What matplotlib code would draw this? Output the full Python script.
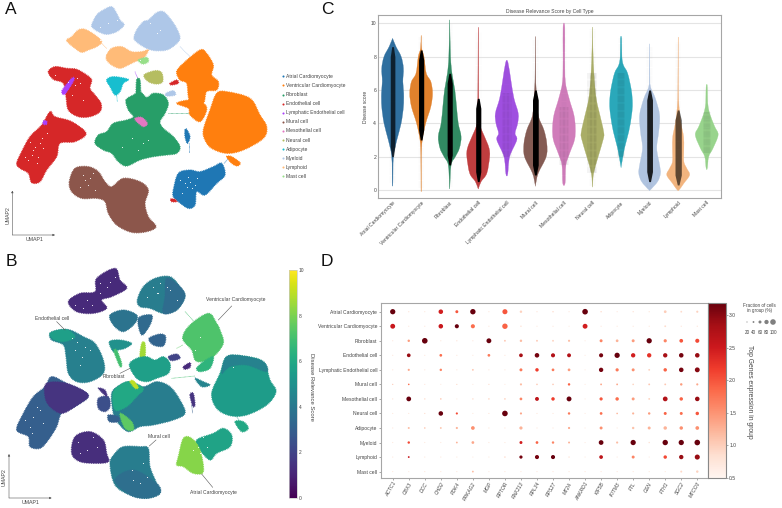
import numpy as np
import matplotlib
matplotlib.use("Agg")
import matplotlib.pyplot as plt
from matplotlib.colors import Normalize
from matplotlib.path import Path
from matplotlib.patches import PathPatch

plt.rcParams["font.family"] = ["Liberation Sans", "DejaVu Sans"]

W, H = 782, 508
TXT = "#444444"
FRAME = "#a6a6a6"

cell_types = ["Atrial Cardiomyocyte", "Ventricular Cardiomyocyte", "Fibroblast", "Endothelial cell",
              "Lymphatic Endothelial cell", "Mural cell", "Mesothelial cell", "Neural cell",
              "Adipocyte", "Myeloid", "Lymphoid", "Mast cell"]
cell_colors = ["#1f77b4", "#ff7f0e", "#279e68", "#d62728", "#aa40fc", "#8c564b",
               "#e377c2", "#b5bd61", "#17becf", "#aec7e8", "#ffbb78", "#98df8a"]
violin_colors = ["#2f6f9f", "#e1812c", "#318a62", "#c03d3e", "#9f4fe0", "#845b53",
                 "#d07cba", "#a9ad66", "#2aa8ba", "#b0c4e0", "#f2b47e", "#98d48c"]

# ---- panel A outlines, UMAP ----
a_myeloid_l = [(275,75),(290,45),(310,30),(335,20),(350,40),(360,60),(372,75),(350,95),(320,103),(295,95),(280,85)]
a_myeloid_r = [(402,115),(410,90),(430,65),(445,60),(470,38),(490,35),(510,55),(530,85),(540,115),(525,135),(500,150),(465,152),(440,145),(415,130)]
a_lymph_1 = [(200,122),(215,110),(235,90),(255,88),(285,105),(305,125),(290,140),(265,150),(245,157),(225,145)]
a_lymph_2 = [(320,165),(335,145),(365,140),(395,155),(425,155),(445,150),(430,175),(405,185),(385,195),(360,205),(335,195),(320,180)]
a_mast = [(415,180),(440,172),(445,185),(428,192)]
a_neural = [(432,225),(465,212),(485,218),(488,245),(470,252),(445,245)]
a_adipo = [(320,240),(340,230),(385,238),(370,250),(360,275),(345,285),(330,260)]
a_fibro = [(378,300),(400,285),(420,275),(440,292),(460,280),(490,285),(505,310),(495,340),(480,365),(490,385),(520,410),(540,440),(530,460),(500,465),(460,470),(420,480),(380,498),(355,485),(335,460),(310,450),(285,430),(295,405),(320,395),(340,370),(380,360),(400,350),(385,330)]
a_fibro_stem = [(410,240),(420,240),(421,285),(409,285)]
a_endo_u = [(145,215),(165,200),(200,205),(230,208),(260,225),(275,240),(270,265),(285,285),(303,310),(300,335),(270,350),(235,350),(205,330),(198,290),(190,250),(160,238)]
a_endo_l = [(50,490),(65,455),(90,410),(125,375),(150,335),(165,350),(215,365),(258,400),(225,425),(180,430),(170,470),(140,510),(120,545),(95,548),(85,520),(60,505)]
a_mural = [(208,545),(225,505),(265,500),(295,515),(315,545),(335,560),(370,535),(420,545),(445,570),(435,610),(445,650),(468,680),(440,695),(395,697),(350,675),(325,640),(315,605),(290,595),(245,595),(215,575)]
a_vent_u = [(530,215),(550,190),(600,150),(620,160),(640,195),(635,225),(655,245),(650,270),(620,275),(610,310),(575,320),(565,290),(560,250),(540,240)]
a_vent_l = [(610,390),(630,330),(650,280),(680,275),(750,295),(780,345),(800,380),(790,415),(730,450),(680,460),(635,445),(615,420)]
a_vent_link = [(530,310),(570,300),(610,310),(620,330),(600,365),(570,345),(565,325)]
a_vent_small = [(680,470),(695,470),(720,488),(712,498),(695,490)]
a_atrial = [(520,570),(535,520),(570,510),(600,515),(640,500),(665,490),(675,525),(650,550),(615,585),(590,575),(585,615),(565,625),(535,605),(520,590)]
a_atrial_small = [(555,390),(560,388),(570,410),(562,430),(555,410)]
a_endo_s1 = [(512,597),(525,598),(530,605),(515,605)]
a_endo_s2 = [(510,250),(530,240),(535,250),(515,255)]
a_lec_1 = [(186,272),(215,235),(222,240),(195,282)]
a_lec_2 = [(130,363),(140,363),(140,373),(130,373)]
a_meso = [(405,355),(425,352),(442,370),(430,380),(410,365)]
a_myel_s = [(498,280),(520,272),(526,285),(500,288)]
a_holes_x = [100,120,85,140,110,95,105,130,75,125,115,90,225,250,270,165,215,230,240,205,560,570,545,590,555,575,565,585,540,255,265,280,270,250,240,285,470,350,300,420,480,450,300,325,445,365,395,430,415]
a_holes_y = [450,430,480,400,490,465,440,445,470,415,470,425,255,300,225,225,285,235,250,245,560,545,580,535,550,565,530,555,540,540,555,520,535,525,560,570,100,60,120,180,90,70,80,70,420,440,415,430,450]
# thin threads between clusters: x0, y0, x1, y1 and cell type
a_threads = [(505,340,575,340,2),(540,140,582,182,9),(445,150,470,145,10),(568,430,568,460,0),(300,125,320,145,10),(405,215,415,240,4),(672,490,690,470,0),(350,285,352,305,8)]

a_polys = [(a_myeloid_l,9),(a_myeloid_r,9),(a_lymph_1,10),(a_lymph_2,10),(a_mast,11),(a_neural,7),(a_adipo,8),
           (a_fibro,2),(a_fibro_stem,2),(a_endo_u,3),(a_endo_l,3),(a_mural,5),(a_vent_u,1),(a_vent_l,1),(a_vent_link,1),
           (a_vent_small,1),(a_atrial,0),(a_atrial_small,0),(a_endo_s1,3),(a_endo_s2,3),(a_lec_1,4),(a_lec_2,4),(a_meso,6),(a_myel_s,9)]

# ---- panel B outlines with their mean score ----
b_myel_l = [(205,155),(240,130),(285,125),(290,85),(345,55),(360,90),(380,115),(335,140),(305,150),(320,175),(280,190),(230,185)]
b_myel_r = [(412,150),(430,110),(465,85),(510,80),(540,110),(555,140),(530,180),(490,190),(450,175),(420,170)]
b_myel_edge = [(500,85),(540,110),(555,140),(530,180),(490,190),(495,140)]
b_lymph = [(330,195),(370,180),(410,195),(405,220),(370,245),(340,225)]
b_link = [(415,205),(455,195),(450,225),(425,255)]
b_neural = [(447,265),(480,252),(497,260),(490,288),(460,285)]
b_adipo = [(328,275),(360,270),(395,280),(375,295),(355,300),(340,305)]
b_adipo_tail = [(342,305),(350,300),(365,340),(360,350)]
b_stem = [(425,280),(435,280),(435,320),(420,320)]
b_fib_u = [(388,345),(410,325),(440,320),(465,330),(490,320),(510,340),(505,370),(470,385),(440,395),(410,385)]
b_fib_l = [(335,430),(360,405),(390,395),(430,410),(470,395),(510,410),(540,450),(555,490),(520,510),(460,525),(420,530),(385,545),(355,520),(340,490)]
b_fib_green = [(338,430),(360,405),(390,395),(430,415),(410,440),(380,470),(345,480)]
b_fib_bright = [(360,490),(395,515),(400,540),(375,535)]
b_fib_frag1 = [(295,445),(325,440),(330,470),(315,485),(295,475)]
b_fib_frag2 = [(325,495),(355,500),(355,515),(328,515)]
b_fib_frag3 = [(295,415),(315,420),(320,440)]
b_yellow = [(390,395),(400,392),(415,412),(405,415)]
b_endo_u = [(150,250),(175,240),(210,240),(250,260),(285,280),(310,330),(310,370),(270,395),(230,395),(205,370),(198,320),(190,285),(155,270)]
b_endo_top = [(150,250),(175,240),(205,240),(225,262),(190,275),(160,268)]
b_endo_l = [(50,540),(70,490),(100,440),(135,410),(155,380),(200,400),(265,435),(225,470),(185,490),(170,530),(145,570),(120,595),(90,590),(85,560)]
b_endo_dark = [(140,400),(200,400),(265,435),(225,470),(185,490),(150,470),(135,440)]
b_mural_l = [(215,610),(225,560),(270,545),(310,570),(320,610),(325,635),(290,640),(240,635)]
b_mural_r = [(330,640),(345,610),(370,590),(420,590),(445,595),(450,650),(470,700),(480,730),(440,745),(390,735),(345,705)]
b_mural_low = [(345,690),(400,660),(470,700),(480,730),(440,745),(390,735)]
b_vent_u = [(548,265),(570,225),(625,190),(650,220),(660,240),(670,280),(640,320),(605,335),(585,330),(575,300)]
b_vent_link = [(590,355),(610,335),(640,320),(630,355),(600,365)]
b_vent_l = [(635,430),(660,370),(680,320),(730,318),(790,335),(810,390),(828,425),(800,465),(740,495),(690,497),(650,475)]
b_vent_rim = [(680,320),(730,318),(790,335),(800,365),(740,345),(690,350),(665,370)]
b_vent_low = [(585,385),(610,395),(630,405),(605,410)]
b_vent_small = [(705,515),(730,515),(745,535),(725,545)]
b_atr_r = [(590,570),(640,550),(670,535),(695,555),(690,590),(650,610),(630,630),(600,600)]
b_atr_l = [(535,620),(550,565),(575,565),(600,600),(610,665),(580,670),(550,650),(530,645)]
b_purple1 = [(505,320),(530,312),(540,325),(515,332)]
b_purple2 = [(550,350),(570,338),(570,352),(555,358)]
b_purple3 = [(570,435),(580,430),(585,465),(578,468)]
b_holes_x = [100,90,130,75,110,120,95,225,240,255,245,230,215,270,300,260,240,290,320,235,260,280,300,330,345,250,275,225,595,610,580,600,620,500,470,420,400,600,585,440,395,700,480,475,460,510,530,440,430]
b_holes_y = [500,530,520,510,470,480,550,300,345,290,320,275,265,300,100,150,610,590,110,575,600,560,130,95,80,175,165,165,590,560,600,610,590,110,130,700,690,260,300,140,660,350,100,130,110,120,150,680,640]
# thin threads between clusters: x0, y0, x1, y1 and score
b_threads = [(515,385,585,378,7.0),(555,185,592,225,7.0),(320,620,335,640,2.5),(710,500,720,515,5.5),(530,295,548,285,7.5),(575,465,578,490,3.0)]

b_polys = [(b_myel_l,1.2),(b_myel_r,4.2),(b_myel_edge,3.5),(b_lymph,3.8),(b_link,3.4),(b_neural,3.2),(b_adipo,5.0),(b_adipo_tail,7.0),
           (b_stem,8.6),(b_fib_u,5.6),(b_fib_l,4.2),(b_fib_green,6.0),(b_fib_bright,7.5),(b_fib_frag1,2.4),(b_fib_frag2,3.0),
           (b_fib_frag3,1.5),(b_yellow,9.0),(b_endo_u,4.3),(b_endo_top,5.6),(b_endo_l,3.0),(b_endo_dark,1.5),(b_mural_l,1.3),
           (b_mural_r,4.2),(b_mural_low,3.6),(b_vent_u,7.2),(b_vent_link,6.5),(b_vent_l,5.5),(b_vent_rim,4.4),(b_vent_low,4.5),(b_vent_small,6.0),(b_atr_r,5.8),
           (b_atr_l,8.2),(b_purple1,2.0),(b_purple2,1.2),(b_purple3,1.5)]

# ---- panel C, violin profile: score and half width ----
v_atrial = [(0.4,0.01),(2,0.03),(3,0.15),(4,0.3),(5,0.38),(5.8,0.39),(6.5,0.36),(7.3,0.38),(8,0.3),(8.6,0.12),(9.05,0.01)]
v_vent = [(0.1,0.005),(2,0.01),(3,0.04),(4,0.16),(5,0.34),(5.8,0.4),(6.5,0.34),(7,0.18),(8,0.1),(8.5,0.02),(9.2,0.003)]
v_fibro = [(0.2,0.005),(1.5,0.05),(2,0.2),(2.5,0.34),(3.2,0.4),(4,0.3),(5,0.24),(6,0.18),(7,0.08),(8,0.03),(10,0.003)]
v_endo = [(0.1,0.01),(0.5,0.1),(1,0.3),(2,0.4),(2.5,0.38),(3,0.27),(4,0.04),(5,0.02),(7,0.01),(9.5,0.003)]
v_lec = [(0.95,0.03),(2,0.1),(3,0.35),(3.4,0.29),(4,0.38),(4.6,0.4),(5.5,0.25),(6.5,0.15),(7.65,0.04)]
v_mural = [(0.3,0.005),(1,0.1),(2,0.38),(2.8,0.4),(3.6,0.3),(4.5,0.1),(6,0.03),(7,0.01),(9,0.002)]
v_meso = [(0.4,0.04),(1.5,0.07),(2.2,0.2),(3,0.37),(3.7,0.4),(4.5,0.35),(5.5,0.18),(6.5,0.05),(8,0.03),(9.8,0.03)]
v_neural = [(0.25,0.005),(1,0.04),(2,0.2),(3,0.37),(3.4,0.4),(4.2,0.3),(5.5,0.13),(7,0.05),(8.5,0.015),(9.65,0.003)]
v_adipo = [(1.45,0.01),(2.5,0.12),(3.5,0.27),(4.5,0.37),(5.2,0.4),(6,0.36),(7,0.23),(7.5,0.08),(8,0.03),(9.1,0.02)]
v_myeloid = [(0,0.02),(0.5,0.28),(1,0.38),(1.5,0.35),(2.5,0.25),(3.5,0.32),(4.5,0.35),(5.5,0.2),(6.2,0.03),(7,0.01),(8.6,0.003)]
v_lymph = [(0,0.03),(0.4,0.2),(0.9,0.4),(1.3,0.3),(1.7,0.2),(2.5,0.2),(3.2,0.19),(4,0.1),(5,0.03),(6.3,0.01),(8.9,0.002)]
v_mast = [(1.3,0.02),(2,0.07),(2.5,0.22),(3.3,0.4),(3.8,0.28),(4.5,0.12),(5,0.05),(5.5,0.03),(6.25,0.02)]
violins = [v_atrial, v_vent, v_fibro, v_endo, v_lec, v_mural, v_meso, v_neural, v_adipo, v_myeloid, v_lymph, v_mast]

# dense range of the points in each violin: low, high, half width, darkness
strip_low = [2.0, 3.0, 1.5, 0.5, 2.0, 0.9, 1.5, 1.0, 2.0, 0.5, 0.3, 2.2]
strip_high = [8.6, 8.4, 7.0, 5.5, 5.8, 6.0, 5.0, 7.0, 7.0, 6.0, 4.8, 4.7]
strip_hw = [0.08, 0.09, 0.09, 0.09, 0.14, 0.1, 0.14, 0.14, 0.11, 0.1, 0.11, 0.1]
strip_dark = [0.7, 1.0, 1.0, 1.0, 0.15, 1.0, 0.1, 0.35, 0.3, 0.85, 0.6, 0.2]
tail_low = [0.4, 0.1, 0.2, 0.1, 0.95, 0.3, 0.4, 0.25, 1.45, 0.0, 0.0, 1.3]
tail_high = [9.05, 9.2, 10.0, 9.5, 7.65, 9.0, 9.8, 9.65, 9.1, 8.6, 8.9, 6.25]

# ---- panel D ----
genes = ["ACTC1", "CBX3", "DCC", "CHD2", "PDK4", "PRKAG2", "MGP", "RPTOR", "RNF213", "RPL34",
         "RPS27", "MT2A", "ANKRD1", "KIF5B", "IFITM3", "FTL", "GSN", "FTH1", "SGC2", "MTCO3"]
frac = np.array([
    [95,28,22,84,59,97,17,92,50,28,32,22,100,32,17,28,28,55,39,45],
    [89,17,17,84,77,77,17,97,32,22,22,17,89,17,17,22,17,39,28,28],
    [22,50,100,20,20,22,89,39,50,39,39,45,10,59,55,59,95,63,71,77],
    [17,71,17,55,17,17,55,17,71,84,77,74,10,77,95,81,81,81,84,84],
    [20,45,20,50,17,39,20,17,59,67,55,55,10,81,63,59,39,67,84,89],
    [28,35,20,14,24,14,28,14,45,35,35,50,10,39,39,35,39,39,50,45],
    [24,87,32,35,10,32,35,35,55,74,67,89,10,63,67,59,39,87,67,84],
    [17,22,28,84,45,17,24,100,45,22,20,50,10,55,35,45,50,59,59,67],
    [20,42,35,39,45,71,24,26,63,24,26,45,10,59,24,50,59,67,67,71],
    [17,50,17,20,39,55,20,20,59,55,50,42,10,87,45,95,32,97,95,100],
    [20,39,17,14,17,17,17,28,63,77,77,28,10,71,24,59,10,67,81,92],
    [14,14,17,14,17,39,17,17,17,20,20,20,20,20,20,20,24,20,42,50]])
expr = np.array([
    [3.2,.6,.6,2.4,1.9,3.2,.6,1.9,.8,.6,.7,.6,3.2,.7,.6,.7,.6,.85,.7,.8],
    [2.5,.6,.6,2.5,3.2,1.7,.6,1.8,.65,.55,.6,.5,2.4,.6,.55,.6,.6,.7,.6,.6],
    [.6,1.3,3.2,.6,.7,.6,3.2,.9,1.0,.9,.8,1.0,.5,1.5,1.1,1.3,3.2,1.5,1.9,2.0],
    [.6,2.9,.6,1.7,.6,.55,1.6,.6,2.8,3.1,2.7,2.7,.5,3.1,3.2,2.4,2.2,2.8,3.1,2.9],
    [.6,1.2,.6,1.5,.6,.9,.6,.55,1.6,2.1,1.6,1.3,.5,3.1,1.6,1.4,.8,1.8,3.1,3.0],
    [.9,1.7,.6,.5,.8,.5,.7,.5,1.0,.9,.9,1.8,.5,1.2,1.2,.8,.9,.9,1.3,1.2],
    [.7,3.2,.7,.9,.5,.7,.75,.85,1.5,2.6,2.1,3.2,.5,1.9,1.7,1.3,.8,2.7,1.8,2.9],
    [.55,.6,.7,3.2,2.0,.55,.65,3.2,1.2,.6,.6,1.6,.5,1.7,1.1,1.1,1.3,1.8,1.7,1.9],
    [.6,1.0,.9,.95,1.1,1.4,.65,.6,1.1,.6,.6,1.2,.5,1.4,.55,.95,1.1,1.1,1.4,1.4],
    [.55,2.0,.55,.55,1.1,1.2,.55,.55,2.4,1.8,1.5,1.1,.5,3.2,1.0,3.2,.65,3.2,3.2,3.2],
    [.6,2.5,.6,.55,.55,.5,.55,.9,3.1,3.1,3.2,.75,.5,2.6,.55,1.5,.5,2.0,2.9,2.9],
    [.55,.5,.6,.55,.6,1.0,.5,.6,.55,.6,.6,.6,.6,.6,.6,.6,.55,.55,.75,.8]])
size_legend = [20, 40, 60, 80, 100]


def px_axes(x0, y0, x1, y1, **kw):
    # axes placed by picture pixels, y from the top
    return fig.add_axes([x0 / W, 1 - y1 / H, (x1 - x0) / W, (y1 - y0) / H], **kw)


def smooth_path(pts):
    # closed curve going through the read points
    p = np.array(pts, dtype=float)
    n = len(p)
    verts = [p[0]]
    codes = [Path.MOVETO]
    for i in range(n):
        p0, p1, p2, p3 = p[i - 1], p[i], p[(i + 1) % n], p[(i + 2) % n]
        verts += [p1 + (p2 - p0) / 6, p2 - (p3 - p1) / 6, p2]
        codes += [Path.CURVE4] * 3
    return Path(verts, codes)


def fill_poly(ax, pts, col, z=2):
    ax.add_patch(PathPatch(smooth_path(pts), fc=col, ec=col, lw=0.9, ls=(0, (0.6, 0.8)), zorder=z))


def umap_arrows(ax, ox, oy, ln_x, ln_y, lab1, lab2):
    style = dict(arrowstyle="-|>,head_width=0.06,head_length=0.12", color="#555555", lw=0.4, shrinkA=0, shrinkB=0)
    ax.annotate("", xy=(ox + ln_x, oy), xytext=(ox, oy), arrowprops=style)
    ax.annotate("", xy=(ox, oy - ln_y), xytext=(ox, oy), arrowprops=style)
    ax.text(lab1[0], lab1[1], "UMAP1", fontsize=3.8, color=TXT, ha="center", va="center")
    ax.text(lab2[0], lab2[1], "UMAP2", fontsize=3.8, color=TXT, ha="center", va="center", rotation=90)


def dot_diam(f):
    # diameter in points from fraction of cells, tiny dots still show
    return np.maximum(5.6 * (np.asarray(f) / 100.0) ** 1.2, 1.1) * 0.72


fig = plt.figure(figsize=(W / 100, H / 100), dpi=100, facecolor="white")

# ---- A ----
ax_a = px_axes(0, 0, 340, 250)
ax_a.set_xlim(0, 1020)
ax_a.set_ylim(750, 0)
ax_a.axis("off")
for x0, y0, x1, y1, k in a_threads:
    ax_a.plot([x0, x1], [y0, y1], color=cell_colors[k], lw=0.5, ls=(0, (1, 0.8)), zorder=1)
for pts, k in a_polys:
    fill_poly(ax_a, pts, cell_colors[k])
ax_a.scatter(a_holes_x, a_holes_y, s=0.6, c="white", lw=0, zorder=3)
umap_arrows(ax_a, 37, 705, 128, 133, (103, 718), (23, 645))
for i, name in enumerate(cell_types):
    yy = 229 + i * 27.3
    ax_a.scatter([849], [yy], s=2.2, c=cell_colors[i], lw=0, zorder=3)
    ax_a.text(858, yy, name, fontsize=3.6, color=TXT, va="center", ha="left", clip_on=False)

# ---- B ----
ax_b = px_axes(0, 250, 340, 508)
ax_b.set_xlim(0, 1020)
ax_b.set_ylim(774, 0)
ax_b.axis("off")
norm_b = Normalize(0, 10)
for x0, y0, x1, y1, score in b_threads:
    ax_b.plot([x0, x1], [y0, y1], color=plt.cm.viridis(norm_b(score)), lw=0.5, ls=(0, (1, 0.8)), zorder=1)
for pts, score in b_polys:
    fill_poly(ax_b, pts, plt.cm.viridis(norm_b(score)))
ax_b.scatter(b_holes_x, b_holes_y, s=0.6, c="white", lw=0, zorder=3)
umap_arrows(ax_b, 27, 744, 128, 132, (93, 758), (13, 680))
notes = [("Ventricular Cardiomyocyte", 706, 147, (695, 168), (655, 210)),
         ("Endothelial cell", 155, 204, (170, 215), (195, 240)),
         ("Fibroblast", 342, 381, (360, 370), (390, 355)),
         ("Mural cell", 478, 560, (468, 570), (448, 588)),
         ("Atrial Cardiomyocyte", 640, 727, (638, 712), (605, 672))]
for name, tx, ty, p0, p1 in notes:
    ax_b.text(tx, ty, name, fontsize=3.6, color=TXT, ha="center", va="center", zorder=5)
    ax_b.plot([p0[0], p1[0]], [p0[1], p1[1]], color="#555555", lw=0.4, zorder=5)

cax_b = px_axes(288.5, 270, 296.5, 498)
sm = plt.cm.ScalarMappable(norm=norm_b, cmap="viridis")
cb_b = fig.colorbar(sm, cax=cax_b)
cb_b.set_ticks([0, 2, 4, 6, 8, 10])
cb_b.ax.tick_params(labelsize=3.5, length=0, pad=1.5, labelcolor=TXT)
cb_b.outline.set_edgecolor("#c8c8c8")
cb_b.outline.set_linewidth(0.5)
fig.text(312 / W, 1 - 387 / H, "Disease Relevance Score", fontsize=4.2, color=TXT, rotation=270, ha="center", va="center")

# ---- C ----
ax_c = px_axes(378.3, 15.3, 721, 198.3)
ax_c.set_xlim(-0.5, 11.5)
ax_c.set_ylim(-0.5, 10.48)
ax_c.set_yticks([0, 2, 4, 6, 8, 10])
ax_c.yaxis.grid(True, color="#e4e4e4", lw=0.8)
ax_c.set_axisbelow(True)
for i, prof in enumerate(violins):
    ys, ws = zip(*prof)
    outline = [(i + w, y) for y, w in zip(ys, ws)] + [(i - w, y) for y, w in zip(ys[::-1], ws[::-1])]
    ax_c.add_patch(PathPatch(smooth_path(outline), fc=violin_colors[i], ec=violin_colors[i], lw=0.2, zorder=2))
    # sparse tails of the points
    for off in [-0.08, -0.04, 0.0, 0.04, 0.08]:
        ax_c.vlines(i + off, tail_low[i], tail_high[i], color="#666666", lw=0.2, ls=(0, (0.6, 3.5)), alpha=0.45, zorder=3)
    # dense strip of points
    if strip_dark[i] >= 0.6:
        ax_c.fill_betweenx([strip_low[i], strip_low[i] + 0.6, strip_high[i] - 0.6, strip_high[i]],
                           [i - 0.03, i - strip_hw[i], i - strip_hw[i], i - 0.03],
                           [i + 0.03, i + strip_hw[i], i + strip_hw[i], i + 0.03],
                           color="black", alpha=strip_dark[i], lw=0, zorder=4)
    else:
        for off in np.arange(-strip_hw[i], strip_hw[i] + 0.001, strip_hw[i] / 3):
            ax_c.vlines(i + off, strip_low[i], strip_high[i], color="black", lw=0.25, ls=(0, (0.8, 2.5)), alpha=0.5 + strip_dark[i], zorder=4)
ax_c.set_xticks(range(12))
ax_c.set_xticklabels(cell_types, rotation=45, ha="right", rotation_mode="anchor", fontsize=3.6, color=TXT)
ax_c.tick_params(axis="both", length=0, pad=1.5, labelsize=3.6, labelcolor=TXT)
ax_c.set_ylabel("Disease score", fontsize=3.6, color=TXT, labelpad=2)
ax_c.set_title("Disease Relevance Score by Cell Type", fontsize=3.6, color=TXT, pad=2)
for s in ax_c.spines.values():
    s.set_color(FRAME)
    s.set_linewidth(0.8)

# ---- D ----
ax_d = px_axes(380.7, 302.7, 707.7, 477.7)
ax_d.set_xlim(-0.75, 19.65)
ax_d.set_ylim(11.42, -0.62)
norm_d = Normalize(0.5, 3.19)
# faint dots need a touch more colour than the bar's lowest end
norm_dots = Normalize(0.3, 3.19)
gx, gy = np.meshgrid(np.arange(20), np.arange(12))
ax_d.scatter(gx.ravel(), gy.ravel(), s=dot_diam(frac.ravel()) ** 2, c=expr.ravel(), cmap="Reds", norm=norm_dots, lw=0, zorder=3)
ax_d.set_xticks(range(20))
ax_d.set_xticklabels(genes, rotation=60, ha="right", rotation_mode="anchor", fontsize=3.6, style="italic", color=TXT)
ax_d.set_yticks(range(12))
ax_d.set_yticklabels(cell_types, fontsize=3.6, color=TXT)
ax_d.tick_params(axis="both", length=1.5, width=0.4, pad=1, color="#666666")
for s in ax_d.spines.values():
    s.set_color(FRAME)
    s.set_linewidth(0.8)

cax_d = px_axes(708.3, 302.7, 725.7, 477.7)
sm_d = plt.cm.ScalarMappable(norm=norm_d, cmap="Reds")
cb_d = fig.colorbar(sm_d, cax=cax_d)
cb_d.set_ticks([0.5, 1.0, 1.5, 2.0, 2.5, 3.0])
cb_d.ax.tick_params(labelsize=3.6, length=1.5, width=0.4, pad=1, labelcolor=TXT, color="#666666")
cb_d.outline.set_edgecolor("#888888")
cb_d.outline.set_linewidth(0.8)
fig.text(750 / W, 1 - 392 / H, "Top Genes expression in group", fontsize=4.9, color=TXT, rotation=270, ha="center", va="center")

# size legend
ax_s = px_axes(735, 300, 782, 340)
ax_s.set_xlim(-16.9, 127.7)
ax_s.set_ylim(40, 0)
ax_s.axis("off")
ax_s.scatter(size_legend, [22] * 5, s=dot_diam(size_legend) ** 2, c="#808080", lw=0)
for v in size_legend:
    ax_s.text(v, 32, str(v), fontsize=3.3, color=TXT, ha="center", va="center")
ax_s.text(58, 8, "Fraction of cells\nin group (%)", fontsize=3.3, color=TXT, ha="center", va="center", linespacing=1.15)

# panel letters
for letter, lx, ly in [("A", 5, 14.5), ("B", 6, 265.5), ("C", 321, 14.5), ("D", 321, 265.5)]:
    fig.text(lx / W, 1 - ly / H, letter, fontsize=12.5, color="#111111", ha="left", va="baseline")

fig.savefig("out.png", dpi=100, facecolor="white")
